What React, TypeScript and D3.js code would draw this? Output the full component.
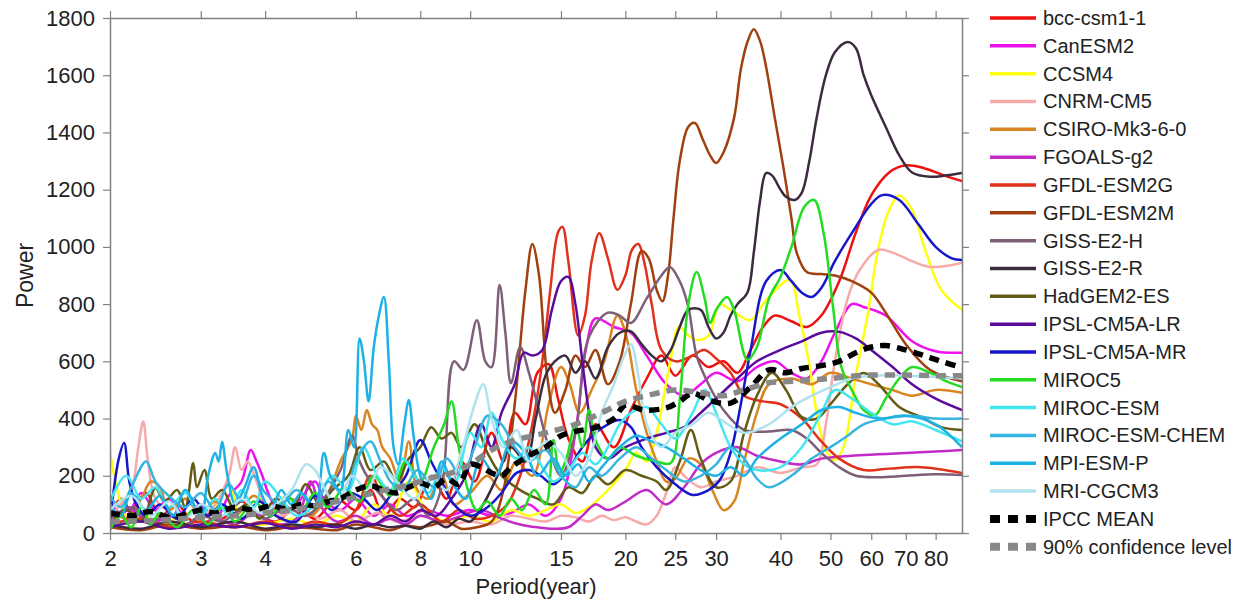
import { useEffect, useRef } from 'react'
import * as d3 from 'd3'

type Pt = [number, number]

// [period (year), power]
const bccCsm11: Pt[] = [[2.0,60],[2.1,120],[2.2,80],[2.35,140],[2.5,60],[2.7,100],[2.9,40],[3.1,90],[3.3,50],[3.6,110],[3.9,60],[4.2,40],[4.6,90],[5.0,50],[5.5,120],[6.0,80],[6.4,150],[6.8,60],[7.3,120],[7.8,90],[8.4,200],[9.0,120],[9.6,250],[10.2,180],[11,350],[11.6,250],[12.2,420],[12.8,380],[13.5,560],[14.2,590],[14.8,470],[15.5,330],[16.5,250],[17.5,380],[19,300],[20.5,430],[22,540],[23.5,620],[25,550],[27,620],[29,580],[31,600],[33,560],[35,640],[37,720],[39,760],[42,740],[45,720],[48,760],[52,880],[56,1050],[60,1180],[65,1260],[70,1285],[76,1275],[83,1250],[90,1230]]
const canEsm2: Pt[] = [[2.0,100],[2.15,60],[2.3,140],[2.45,80],[2.6,120],[2.8,60],[3.0,100],[3.2,50],[3.4,130],[3.6,180],[3.75,290],[3.85,250],[3.95,200],[4.1,120],[4.3,70],[4.6,100],[5.0,180],[5.2,120],[5.6,80],[6.0,120],[6.5,60],[7.0,100],[7.5,60],[8.2,80],[9,60],[10,80],[11,60],[12,70],[13,100],[14,60],[15,120],[16,350],[16.8,650],[17.5,750],[19,720],[20.5,700],[22,620],[24,520],[26,480],[28,520],[30,560],[33,530],[36,580],[39,600],[42,560],[45,540],[48,600],[51,700],[55,800],[58,790],[64,760],[72,670],[80,635],[90,630]]
const ccsm4: Pt[] = [[2.0,280],[2.05,180],[2.12,80],[2.2,40],[2.35,60],[2.5,30],[2.7,50],[2.9,20],[3.1,40],[3.4,170],[3.6,40],[4,30],[4.5,50],[5,30],[5.5,60],[6,40],[6.5,100],[7,60],[7.6,180],[8.2,80],[9,40],[10,60],[11,40],[12,80],[13,60],[14,80],[15,100],[16,70],[17,90],[18.5,150],[20,220],[21,280],[22,250],[23,350],[24.5,610],[25.4,720],[26.5,690],[27.5,675],[29,690],[30.5,800],[32,780],[35,744],[37,800],[38,825],[41.7,884],[43.5,760],[45.5,590],[47,420],[49,290],[51,255],[53,300],[56,550],[59,760],[62,1000],[65,1130],[68,1180],[72,1130],[76,1000],[82,850],[90,780]]
const cnrmCm5: Pt[] = [[2.0,60],[2.1,100],[2.2,150],[2.27,300],[2.32,390],[2.37,250],[2.45,120],[2.6,80],[2.8,120],[3.0,60],[3.2,100],[3.4,200],[3.5,300],[3.6,220],[3.7,250],[3.85,180],[4.0,100],[4.3,60],[4.7,90],[5.1,50],[5.6,80],[6,40],[6.6,70],[7.2,40],[8,60],[9,30],[10,40],[11,30],[12,60],[13,50],[14,40],[15,60],[16,55],[17,40],[18,60],[19,45],[20,55],[21,40],[22,30],[23,60],[24,140],[25,230],[26,200],[28,160],[30,180],[33,200],[36,230],[40,210],[44,230],[47,240],[49,380],[51,600],[54,820],[57,920],[62,990],[66,980],[72,950],[78,930],[85,935],[90,945]]
const csiroMk3: Pt[] = [[2.0,90],[2.15,50],[2.3,120],[2.4,180],[2.5,160],[2.6,80],[2.8,120],[3.0,70],[3.2,110],[3.5,60],[3.8,130],[4.1,80],[4.5,120],[4.9,60],[5.3,140],[5.6,250],[5.9,330],[6.0,410],[6.15,360],[6.3,430],[6.45,380],[6.6,360],[6.75,300],[7.0,260],[7.3,180],[7.6,320],[7.9,150],[8.3,120],[8.8,200],[9.3,100],[10,140],[10.8,200],[11.5,150],[12.3,250],[13.2,200],[14.2,450],[15,580],[15.6,520],[16.3,420],[17.2,500],[18.2,600],[19.3,760],[20,700],[21,500],[22,350],[23,250],[24,180],[25,190],[26.5,260],[28,240],[29.5,150],[31,80],[32.5,110],[34,250],[36,420],[38,520],[42,540],[46,520],[50,560],[55,540],[60,520],[66,500],[72,480],[80,500],[90,490]]
const fgoalsG2: Pt[] = [[2.0,40],[2.2,80],[2.4,30],[2.6,60],[2.9,20],[3.2,50],[3.5,30],[3.8,70],[4.2,30],[4.6,50],[4.9,180],[5.1,100],[5.5,40],[6,60],[6.5,30],[7,50],[7.5,30],[8,60],[8.8,40],[9.6,60],[10.5,80],[11.5,50],[12.5,30],[13.5,20],[14.5,15],[15.5,20],[16.5,60],[17.5,100],[18.5,80],[20,110],[22,150],[24,100],[26,160],[28,240],[30,280],[33,300],[36,270],[40,250],[44,240],[48,260],[55,270],[62,275],[70,280],[80,285],[90,290]]
const gfdlEsm2g: Pt[] = [[2.0,30],[2.3,50],[2.6,20],[3,40],[3.5,20],[4,40],[4.5,20],[5,40],[5.5,30],[6,80],[6.4,200],[6.8,120],[7.3,60],[8,100],[8.8,40],[9.5,80],[10.2,50],[11,60],[11.8,100],[12.5,200],[13.2,380],[13.8,600],[14.3,850],[14.8,1050],[15.1,1070],[15.5,950],[16.2,690],[16.7,760],[17.2,950],[17.8,1048],[18.5,960],[19.3,850],[20,900],[20.6,990],[21.2,1010],[21.8,940],[22.5,800],[23.5,640],[25,600],[27,620],[28.5,640],[30,610],[32,560],[34,480],[37,460],[40,450],[44,400],[48,320],[52,260],[58,220],[65,225],[75,230],[90,210]]
const gfdlEsm2m: Pt[] = [[2.0,20],[2.3,10],[2.6,30],[3,15],[3.5,25],[4,10],[4.5,20],[5,15],[5.5,10],[6,30],[6.5,20],[7,10],[7.5,25],[8,20],[8.5,30],[9,40],[9.6,15],[10.3,20],[11,40],[11.6,150],[12.2,450],[12.8,850],[13.2,1010],[13.6,900],[14.1,550],[14.6,420],[15.3,500],[16,620],[16.7,580],[17.5,640],[18.5,520],[19.5,600],[20.5,800],[21.5,985],[22.2,960],[23,850],[23.6,810],[24.2,900],[24.8,1100],[25.5,1300],[26.5,1420],[27.3,1433],[28.2,1380],[29.2,1320],[30,1293],[31,1330],[32.5,1450],[33.5,1620],[34.5,1716],[35.5,1761],[36.5,1720],[37.5,1630],[39,1450],[40.5,1280],[42,1100],[43,980],[45,912],[48,905],[51,900],[55,880],[60,840],[64,770],[70,660],[78,570],[90,530]]
const gissE2h: Pt[] = [[2.0,50],[2.2,90],[2.4,40],[2.6,70],[2.8,30],[3,60],[3.3,40],[3.6,80],[4,50],[4.4,90],[4.8,60],[5.2,120],[5.6,220],[5.9,340],[6.1,250],[6.4,180],[6.8,120],[7.2,80],[7.8,120],[8.3,60],[8.8,160],[9.3,600],[9.7,570],[10.3,744],[10.7,600],[11,580],[11.4,867],[11.7,700],[12,524],[12.5,650],[13,560],[13.5,450],[14.2,300],[15,200],[16,350],[17,685],[18.5,770],[19.5,760],[20.5,734],[22,820],[23.5,900],[24.4,930],[25.5,880],[26.5,790],[27.5,620],[29,520],[31,430],[34,360],[38,355],[42,360],[45,330],[48,280],[52,230],[56,200],[62,195],[70,200],[80,205],[90,203]]
const gissE2r: Pt[] = [[2.0,30],[2.3,15],[2.6,40],[3,20],[3.5,40],[4,15],[4.5,30],[5,20],[5.5,30],[6,15],[6.5,30],[7,20],[7.5,25],[8,15],[8.5,40],[9,20],[9.5,50],[10,40],[10.6,100],[11.3,200],[12,300],[12.8,250],[13.4,400],[14,550],[14.6,600],[15.3,620],[16,560],[16.7,600],[17.5,540],[18.5,650],[19.5,700],[20.5,705],[21.5,660],[22.5,620],[23.5,600],[24.5,640],[25.5,720],[26.5,780],[28,780],[29,720],[30,680],[31,700],[32,760],[33,800],[34.5,840],[35.5,980],[36.5,1160],[37.5,1258],[38.5,1250],[40,1200],[41,1175],[42.6,1164],[44,1190],[45.5,1300],[47,1450],[49,1600],[51,1680],[54,1716],[56,1695],[58,1600],[60,1530],[64,1420],[68,1320],[72,1260],[78,1245],[84,1250],[90,1258]]
const hadGem2Es: Pt[] = [[2.0,30],[2.15,80],[2.3,40],[2.45,157],[2.55,110],[2.7,150],[2.8,90],[2.9,245],[2.95,160],[3.05,220],[3.15,120],[3.3,150],[3.5,80],[3.7,100],[3.9,50],[4.2,120],[4.5,80],[4.8,170],[5.1,100],[5.4,150],[5.8,200],[6.1,300],[6.4,220],[6.8,250],[7.2,180],[7.6,260],[8.0,300],[8.4,370],[8.8,330],[9.2,350],[9.6,300],[10.2,380],[10.8,280],[11.5,200],[12.5,150],[13.5,120],[14.5,100],[15.5,160],[16.5,140],[17.5,200],[18.5,170],[20,220],[21.5,200],[23,180],[24,150],[25.5,250],[26.8,360],[28,260],[30,160],[32,180],[34,350],[36,480],[38.5,560],[41,500],[44,405],[47,400],[50,450],[54,520],[58,559],[62,520],[68,440],[75,405],[82,370],[90,360]]
const ipslCm5aLr: Pt[] = [[2.0,20],[2.3,40],[2.6,15],[3,30],[3.5,20],[4,35],[4.5,15],[5,30],[5.5,20],[6,40],[6.5,30],[7,60],[7.5,40],[8,80],[8.6,60],[9.2,120],[9.8,200],[10.5,380],[11,300],[11.5,420],[12.2,520],[12.7,630],[13.2,620],[13.8,640],[14.4,780],[15,880],[15.5,895],[16,800],[16.5,600],[17,420],[17.5,300],[18.5,260],[20,300],[22,330],[24,350],[26,370],[28,420],[30,470],[33,540],[36,600],[40,640],[44,670],[48,700],[52,703],[56,680],[60,640],[66,580],[72,520],[80,470],[90,430]]
const ipslCm5aMr: Pt[] = [[2.0,40],[2.08,260],[2.13,315],[2.18,180],[2.25,100],[2.35,60],[2.5,100],[2.7,50],[2.9,120],[3.1,60],[3.3,100],[3.6,50],[3.9,110],[4.2,60],[4.6,40],[5.0,130],[5.4,80],[5.8,140],[6.2,120],[6.6,80],[7.0,130],[7.5,200],[8.0,325],[8.4,250],[8.8,180],[9.3,100],[10,60],[10.8,90],[11.5,140],[12.3,210],[13,220],[13.7,200],[14.5,170],[15.5,220],[16.5,300],[17.5,350],[18.5,380],[19.5,395],[20.5,370],[21.5,300],[23,230],[25,170],[27,133],[29,150],[30.5,185],[32,280],[33.5,450],[35,640],[37.5,880],[40,919],[42,880],[44,840],[46,825],[48,856],[51,950],[55,1048],[60,1150],[63,1181],[68,1164],[74,1080],[80,1000],[86,960],[90,954]]
const miroc5: Pt[] = [[2.0,10],[2.1,60],[2.2,20],[2.3,90],[2.4,30],[2.5,70],[2.7,20],[2.9,80],[3.1,30],[3.3,90],[3.5,40],[3.8,110],[4.1,60],[4.4,130],[4.7,80],[5.0,140],[5.3,90],[5.7,160],[6.1,110],[6.5,200],[7.0,130],[7.5,250],[8.0,180],[8.5,300],[8.9,380],[9.2,460],[9.5,300],[9.9,150],[10.3,80],[10.8,110],[11.4,60],[12,120],[12.6,80],[13.3,150],[14,100],[14.5,325],[14.9,210],[15.4,266],[16,380],[16.5,300],[17,430],[17.5,325],[18.5,260],[19.5,300],[21,270],[23,250],[24.5,245],[25.5,465],[26.5,800],[27.5,912],[28.5,820],[29.2,734],[30,780],[31.5,825],[32.5,780],[34.5,605],[36,650],[38,820],[40,895],[42,1000],[44.5,1140],[46.5,1164],[48.5,1048],[50.5,800],[52.5,580],[55,500],[58,430],[61,412],[64,470],[68,540],[72,580],[78,560],[84,530],[90,510]]
const mirocEsm: Pt[] = [[2.0,110],[2.15,200],[2.3,120],[2.45,160],[2.6,90],[2.8,140],[3.0,60],[3.2,120],[3.4,60],[3.6,150],[3.8,90],[4.0,180],[4.3,120],[4.6,60],[5.0,100],[5.4,200],[5.8,150],[6.2,300],[6.6,200],[7.0,150],[7.4,260],[7.8,200],[8.3,140],[8.8,230],[9.3,170],[10,350],[10.5,300],[11,420],[11.5,330],[12.3,260],[13,300],[13.8,230],[14.5,180],[15.5,220],[16.5,280],[17.5,240],[18.5,300],[19.5,380],[20.5,420],[22,440],[23.5,380],[25,330],[27,420],[28.5,500],[30,420],[32,300],[34,240],[36,220],[40,230],[44,300],[48,420],[51,500],[55,470],[60,420],[66,380],[72,390],[80,360],[90,320]]
const mirocEsmChem: Pt[] = [[2.0,130],[2.1,90],[2.2,160],[2.35,250],[2.45,180],[2.6,130],[2.8,90],[3.0,140],[3.2,80],[3.4,170],[3.6,110],[3.8,200],[4.0,140],[4.3,100],[4.6,150],[5.0,90],[5.3,180],[5.7,130],[6.0,250],[6.4,320],[6.7,250],[7.0,180],[7.4,150],[7.9,220],[8.5,160],[9.0,260],[9.6,200],[10.2,300],[10.8,410],[11.5,380],[12.2,300],[13,250],[14,290],[15,200],[16,160],[17,230],[18,200],[19.5,260],[21,300],[22.5,260],[24,220],[26,180],[28,200],[30,240],[32,300],[34,260],[36,190],[38,160],[42,200],[46,260],[50,300],[54,340],[58,380],[64,400],[72,410],[80,400],[90,400]]
const mpiEsmP: Pt[] = [[2.0,100],[2.1,60],[2.2,140],[2.35,80],[2.5,130],[2.65,60],[2.8,150],[3.0,60],[3.1,200],[3.2,280],[3.25,250],[3.3,318],[3.38,200],[3.5,100],[3.65,160],[3.8,230],[3.95,130],[4.1,80],[4.3,150],[4.5,100],[4.7,140],[5.0,90],[5.2,280],[5.35,200],[5.6,150],[5.8,360],[5.95,300],[6.1,680],[6.22,600],[6.35,460],[6.5,650],[6.65,760],[6.8,825],[6.95,600],[7.1,300],[7.25,240],[7.45,380],[7.6,465],[7.75,350],[8.0,200],[8.4,120],[8.8,250],[9.2,180],[9.8,120],[10.5,260],[11.2,200],[12,320],[12.8,280],[13.5,200],[14.5,260],[15.3,200],[16.2,240],[17,180],[18,230],[19.5,300],[21,340],[22.5,320],[24,300],[26,260],[28,220],[30,200],[32,230],[34,200],[36,260],[40,330],[44,380],[48,430],[52,440],[56,420],[62,400],[70,410],[80,380],[90,300]]
const mriCgcm3: Pt[] = [[2.0,80],[2.2,130],[2.4,60],[2.6,110],[2.8,50],[3.0,100],[3.3,60],[3.6,120],[3.9,70],[4.2,100],[4.5,150],[4.8,240],[5.0,220],[5.2,160],[5.5,100],[5.9,200],[6.3,150],[6.7,230],[7.2,180],[7.8,120],[8.4,200],[9.0,150],[9.6,280],[10.2,450],[10.6,520],[11,400],[11.6,300],[12.3,360],[13,250],[14,320],[15,280],[16,200],[17,260],[18,420],[19,520],[19.8,610],[20.5,660],[21.2,550],[22,380],[23.5,300],[25,350],[27,380],[29,420],[31,390],[34,350],[38,380],[42,440],[46,480],[50,510],[55,540],[60,550],[70,550],[80,545],[90,540]]
const ipccMean: Pt[] = [[2.0,70],[2.2,60],[2.4,75],[2.6,55],[2.8,65],[3.0,80],[3.2,70],[3.5,90],[3.8,80],[4.1,95],[4.4,85],[4.7,100],[5.0,95],[5.3,110],[5.6,120],[6.0,150],[6.4,165],[6.8,150],[7.2,140],[7.6,160],[8.0,175],[8.5,160],[9.0,190],[9.5,170],[10,240],[10.5,230],[11,210],[11.5,200],[12,230],[13,270],[14,300],[15,340],[16,355],[17.6,370],[19,400],[20,447],[21.7,430],[24,437],[25.5,460],[27,489],[29,465],[32,454],[35,510],[38,570],[41,560],[44,575],[48,585],[52,600],[56,630],[60,650],[64,655],[70,640],[76,620],[82,600],[90,578]]
const conf90: Pt[] = [[2.0,40],[2.5,45],[3,55],[3.5,60],[4,70],[4.5,80],[5,95],[5.5,110],[6,125],[6.5,140],[7,155],[7.5,165],[8,180],[8.5,195],[9,205],[9.5,220],[10,240],[11,290],[12,320],[14,350],[16,380],[18,420],[20,460],[22,480],[25,500],[28,490],[31,480],[34,500],[38,525],[42,530],[46,535],[50,540],[55,548],[60,552],[70,552],[80,550],[90,550]]

const MODEL_NAMES = ['bcc-csm1-1','CanESM2','CCSM4','CNRM-CM5','CSIRO-Mk3-6-0','FGOALS-g2','GFDL-ESM2G','GFDL-ESM2M','GISS-E2-H','GISS-E2-R','HadGEM2-ES','IPSL-CM5A-LR','IPSL-CM5A-MR','MIROC5','MIROC-ESM','MIROC-ESM-CHEM','MPI-ESM-P','MRI-CGCM3']
const MODEL_DATA = [bccCsm11, canEsm2, ccsm4, cnrmCm5, csiroMk3, fgoalsG2, gfdlEsm2g, gfdlEsm2m, gissE2h, gissE2r, hadGem2Es, ipslCm5aLr, ipslCm5aMr, miroc5, mirocEsm, mirocEsmChem, mpiEsmP, mriCgcm3]
const MODEL_COLORS = ['#f01010','#ee10ee','#ffff10','#f6aaaa','#d98522','#c42ac8','#e0321a','#a0400f','#7d6078','#3c2b3f','#645c14','#5c0c9c','#1616cc','#22dd22','#44e6f0','#38b4e0','#1cb2e6','#b0e2ef']
const DASH_NAMES = ['IPCC MEAN', '90% confidence level']
const DASH_DATA = [ipccMean, conf90]
const DASH_COLORS = ['#000000', '#888888']

const X_TICKS = [2, 3, 4, 6, 8, 10, 15, 20, 25, 30, 40, 50, 60, 70, 80]
const Y_TICKS = [0, 200, 400, 600, 800, 1000, 1200, 1400, 1600, 1800]

const W = 1247
const H = 605
const MARGIN = { top: 18, right: 285, bottom: 72, left: 110 }
const FONT = '"Liberation Sans", Arial, sans-serif'
const AXIS = '#808080'
const TEXT = '#222'

export default function App() {
  const svgRef = useRef<SVGSVGElement>(null)

  useEffect(() => {
    const svg = d3.select(svgRef.current)
    svg.selectAll('*').remove()

    const x0 = MARGIN.left
    const x1 = W - MARGIN.right
    const y0 = H - MARGIN.bottom
    const y1 = MARGIN.top

    const x = d3.scaleLog().domain([2, 90]).range([x0, x1])
    const y = d3.scaleLinear().domain([0, 1800]).range([y0, y1])

    svg.append('defs').append('clipPath').attr('id', 'plot-clip')
      .append('rect').attr('x', x0).attr('y', y1).attr('width', x1 - x0).attr('height', y0 - y1)

    const line = d3.line<Pt>()
      .x(d => x(d[0]))
      .y(d => y(d[1]))
      .curve(d3.curveCatmullRom.alpha(0.5))

    const plot = svg.append('g').attr('clip-path', 'url(#plot-clip)')

    MODEL_DATA.forEach((data, i) => {
      plot.append('path')
        .datum(data)
        .attr('fill', 'none')
        .attr('stroke', MODEL_COLORS[i])
        .attr('stroke-width', 2.5)
        .attr('stroke-linejoin', 'round')
        .attr('d', line)
    })

    DASH_DATA.forEach((data, i) => {
      plot.append('path')
        .datum(data)
        .attr('fill', 'none')
        .attr('stroke', DASH_COLORS[i])
        .attr('stroke-width', 5.5)
        .attr('stroke-dasharray', '10,7')
        .attr('d', line)
    })

    const style = (g: d3.Selection<SVGGElement, unknown, null, undefined>) => {
      g.select('.domain').attr('stroke', AXIS).attr('stroke-width', 1.5)
      g.selectAll('line').attr('stroke', AXIS).attr('stroke-width', 1.2)
      g.selectAll('text').attr('fill', TEXT).attr('font-size', '22px').attr('font-family', FONT)
    }

    // Axes
    svg.append('g')
      .attr('transform', `translate(0,${y0})`)
      .call(d3.axisBottom(x).tickValues(X_TICKS).tickFormat(d3.format('d')).tickSize(7).tickSizeOuter(0).tickPadding(10))
      .call(style)

    svg.append('g')
      .attr('transform', `translate(0,${y1})`)
      .call(d3.axisTop(x).tickValues(X_TICKS).tickFormat(() => '').tickSize(7).tickSizeOuter(0))
      .call(style)

    svg.append('g')
      .attr('transform', `translate(${x0},0)`)
      .call(d3.axisLeft(y).tickValues(Y_TICKS).tickFormat(d3.format('d')).tickSize(7).tickSizeOuter(0).tickPadding(8))
      .call(style)

    svg.append('g')
      .attr('transform', `translate(${x1},0)`)
      .call(d3.axisRight(y).tickValues(Y_TICKS).tickFormat(() => '').tickSize(7).tickSizeOuter(0))
      .call(style)

    // Axis titles
    svg.append('text')
      .attr('x', (x0 + x1) / 2)
      .attr('y', 594)
      .attr('text-anchor', 'middle')
      .attr('fill', TEXT)
      .attr('font-size', '22px')
      .attr('font-family', FONT)
      .text('Period(year)')

    svg.append('text')
      .attr('transform', `translate(33,${(y0 + y1) / 2}) rotate(-90)`)
      .attr('text-anchor', 'middle')
      .attr('fill', TEXT)
      .attr('font-size', '23px')
      .attr('font-family', FONT)
      .text('Power')

    // Legend
    const names = [...MODEL_NAMES, ...DASH_NAMES]
    const colors = [...MODEL_COLORS, ...DASH_COLORS]
    const rowH = 27.83
    const legend = svg.append('g').attr('transform', `translate(990,${y1})`)
    names.forEach((name, i) => {
      const row = legend.append('g').attr('transform', `translate(0,${i * rowH})`)
      const dashed = i >= MODEL_NAMES.length
      row.append('line')
        .attr('x1', 0).attr('x2', 46)
        .attr('y1', 0).attr('y2', 0)
        .attr('stroke', colors[i])
        .attr('stroke-width', dashed ? 8 : 3.5)
        .attr('stroke-dasharray', dashed ? '10,8' : null)
      row.append('text')
        .attr('x', 53)
        .attr('y', 0)
        .attr('dy', '0.35em')
        .attr('fill', TEXT)
        .attr('font-size', '20px')
        .attr('font-family', FONT)
        .text(name)
    })
  }, [])

  return (
    <svg
      ref={svgRef}
      width={W}
      height={H}
      style={{ position: 'absolute', left: 0, top: 0, background: '#fff' }}
    />
  )
}
